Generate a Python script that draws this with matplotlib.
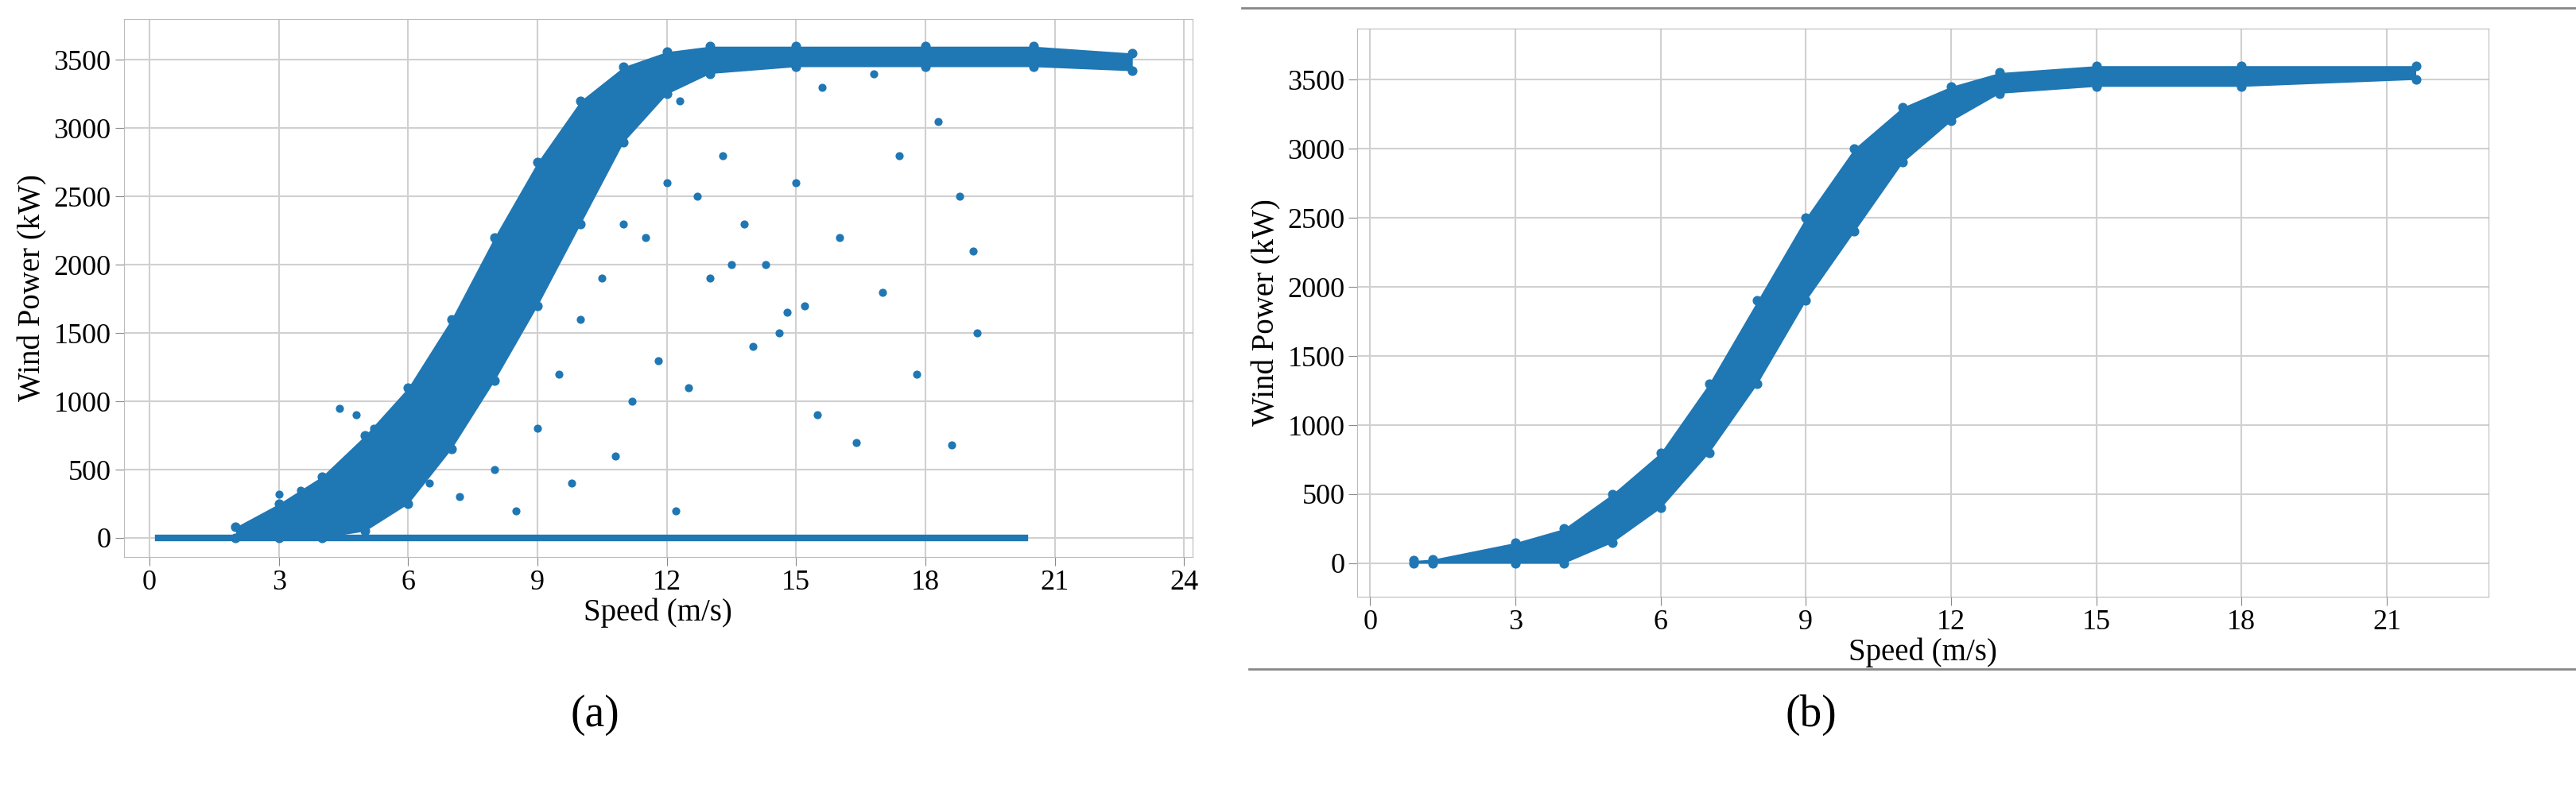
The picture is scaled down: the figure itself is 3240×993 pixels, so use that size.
import numpy as np
import matplotlib.pyplot as plt
from matplotlib.lines import Line2D

plt.rcParams['font.family'] = ['Liberation Serif', 'DejaVu Serif']

# panel (a): dense band edges (speed m/s, power kW)
a_speed = [2.0, 3.0, 4.0, 5.0, 6.0, 7.0, 8.0, 9.0, 10.0, 11.0, 12.0, 13.0, 15.0, 18.0, 20.5, 22.8]
a_upper = [80, 250, 450, 750, 1100, 1600, 2200, 2750, 3200, 3450, 3560, 3600, 3600, 3600, 3600, 3550]
a_lower = [0, 0, 0, 50, 250, 650, 1150, 1700, 2300, 2900, 3250, 3400, 3450, 3450, 3450, 3420]
# panel (a): zero-power line and scattered outliers
a_zero = [0.2, 20.3]
a_out_x = [4.4, 4.8, 5.2, 3.0, 3.5, 6.5, 7.2, 8.0, 8.5, 9.0, 9.5, 10.0, 10.5, 11.0, 11.2, 11.5, 12.0,
           12.3, 12.7, 13.0, 13.3, 13.8, 14.0, 14.3, 14.6, 15.0, 15.2, 15.6, 16.0, 16.4, 17.0, 17.4,
           17.8, 18.3, 18.8, 19.1, 19.2, 12.5, 13.5, 10.8, 9.8, 11.8, 14.8, 12.2, 15.5, 16.8, 18.6]
a_out_y = [950, 900, 800, 320, 350, 400, 300, 500, 200, 800, 1200, 1600, 1900, 2300, 1000, 2200, 2600,
           3200, 2500, 1900, 2800, 2300, 1400, 2000, 1500, 2600, 1700, 3300, 2200, 700, 1800, 2800,
           1200, 3050, 2500, 2100, 1500, 1100, 2000, 600, 400, 1300, 1650, 200, 900, 3400, 680]
# panel (b)
b_speed = [0.9, 1.3, 3.0, 4.0, 5.0, 6.0, 7.0, 8.0, 9.0, 10.0, 11.0, 12.0, 13.0, 15.0, 18.0, 21.6]
b_upper = [20, 30, 150, 250, 500, 800, 1300, 1900, 2500, 3000, 3300, 3450, 3550, 3600, 3600, 3600]
b_lower = [0, 0, 0, 0, 150, 400, 800, 1300, 1900, 2400, 2900, 3200, 3400, 3450, 3450, 3500]

blue = '#1f77b4'
fig = plt.figure(figsize=(32.4, 9.93), dpi=100)
axa = fig.add_axes([0.048, 0.294, 0.415, 0.682])
axb = fig.add_axes([0.527, 0.244, 0.439, 0.72])

def band(ax, xs, lo, hi):
    ax.fill_between(xs, lo, hi, color=blue, lw=0, zorder=2)
    ax.scatter(xs + xs, lo + hi, s=60, color=blue, zorder=2)

band(axa, a_speed, a_lower, a_upper)
axa.plot(a_zero, [0, 0], color=blue, lw=6, zorder=2)
axa.scatter(a_out_x, a_out_y, s=40, color=blue, zorder=3)
axa.set_xlim(-0.6, 24.2)
axa.set_ylim(-140, 3800)

band(axb, b_speed, b_lower, b_upper)
axb.set_xlim(-0.26, 23.1)
axb.set_ylim(-240, 3870)

for ax in (axa, axb):
    ax.set_xticks(range(0, 25 if ax is axa else 22, 3))
    ax.set_yticks(range(0, 3501, 500))
    ax.grid(True, color='#d0d0d0', lw=1.5, zorder=0)
    ax.set_axisbelow(True)
    ax.tick_params(labelsize=26, length=8, color='#888888')
    for s in ax.spines.values():
        s.set_color('#bbbbbb')
    ax.set_xlabel('Speed (m/s)', fontsize=28, labelpad=2)
    ax.set_ylabel('Wind Power (kW)', fontsize=28, labelpad=6)

fig.text(0.231, 0.08, '(a)', fontsize=40, ha='center')
fig.text(0.703, 0.08, '(b)', fontsize=40, ha='center')
fig.add_artist(Line2D([0.482, 1.0], [0.99, 0.99], color='#888888', lw=2))
fig.add_artist(Line2D([0.485, 1.0], [0.152, 0.152], color='#888888', lw=2))

fig.savefig('out.png', dpi=100)
